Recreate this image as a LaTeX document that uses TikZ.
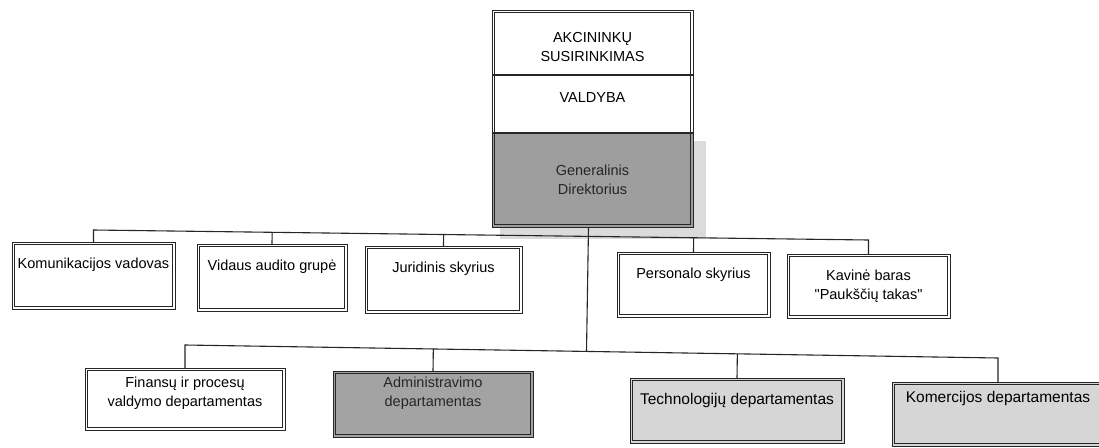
\documentclass[tikz,border=0pt]{standalone}
\usepackage{fontspec}
\setmainfont{Liberation Sans}
\usetikzlibrary{calc,fit}
\begin{document}
\begin{tikzpicture}[x=1pt,y=-1pt,
  box/.style={draw=black!85, line width=0.9pt, inner sep=0pt, outer sep=0pt,
    path picture={\draw[black!85, line width=0.6pt]
      ([shift={(2.4pt,-2.4pt)}]path picture bounding box.north west) rectangle
      ([shift={(-2.4pt,2.4pt)}]path picture bounding box.south east);}},
  darkbox/.style={box, fill=black!36},
  lightbox/.style={box, fill=black!16},
  plain/.style={inner sep=0pt, outer sep=0pt},
  shadow/.style={fill=black!14, draw=none},
  txt/.style={align=center, inner sep=0pt, font=\fontsize{14.5}{19}\selectfont},
  bigtxt/.style={align=center, inner sep=0pt, font=\fontsize{15.5}{17}\selectfont},
  sep/.style={draw=black!85, line width=1.1pt},
  conn/.style={draw=black!85, line width=1.1pt}]
\fill[white] (0,0) rectangle (1099,447);
\useasboundingbox (0,0) rectangle (1099,447);

% top stack
\node[plain, minimum width=201, minimum height=65] (akc) at (592.5,42.5) {};
\node[plain, minimum width=201, minimum height=58] (val) at (592.5,104) {};
\node[plain, fill=black!38, minimum width=201, minimum height=94] (gen) at (592.5,180) {};
\fill[shadow] ($(gen.north east)+(0,8)$) rectangle ($(gen.south east)+(13,12)$);
\fill[shadow] ($(gen.south west)+(8,0)$) rectangle ($(gen.south east)+(13,12)$);
\node[box, fit=(akc)(val)(gen)] (stack) {};
\draw[sep] (akc.south west) -- (akc.south east);
\draw[sep] (val.south west) -- (val.south east);
\node[txt, anchor=north] (akct) at ([yshift=-22]akc.north) {AKCININKŲ\\SUSIRINKIMAS};
\node[txt, anchor=north] (valt) at ([yshift=-17]val.north) {VALDYBA};
\node[txt, text=black!85] (gent) at (gen.center) {Generalinis\\Direktorius};

% level 1
\node[box, minimum width=163, minimum height=67] (kom) at (93.5,275.5) {};
\node[box, minimum width=150, minimum height=67] (vid) at (272,277.5) {};
\node[box, minimum width=157, minimum height=67] (jur) at (443.5,279.5) {};
\node[box, minimum width=153, minimum height=65] (per) at (693.5,284.5) {};
\node[box, minimum width=163, minimum height=64] (kav) at (868.5,286) {};
\node[txt, anchor=north] (komt) at ([yshift=-16]kom.north) {Komunikacijos vadovas};
\node[txt, anchor=north] (vidt) at ([yshift=-16]vid.north) {Vidaus audito grupė};
\node[txt, anchor=north] (jurt) at ([yshift=-16]jur.north) {Juridinis skyrius};
\node[txt, anchor=north] (pert) at ([yshift=-16]per.north) {Personalo skyrius};
\node[txt, anchor=north] (kavt) at ([yshift=-16]kav.north) {Kavinė baras\\\textquotedbl Paukščių takas\textquotedbl};

% level 2
\node[box, minimum width=200, minimum height=62] (fin) at (185,399) {};
\node[darkbox, minimum width=200, minimum height=66] (adm) at (433,404) {};
\node[lightbox, minimum width=214, minimum height=65] (tec) at (737,410.5) {};
\node[lightbox, minimum width=212, minimum height=64] (kmr) at (998,414) {};
\node[txt, anchor=north] (fint) at ([yshift=-9]fin.north) {Finansų ir procesų\\valdymo departamentas};
\node[txt, anchor=north, text=black!85] (admt) at ([yshift=-6]adm.north) {Administravimo\\departamentas};
\node[bigtxt, anchor=north] (tect) at ([yshift=-15]tec.north) {Technologijų departamentas};
\node[bigtxt, anchor=north] (kmrt) at ([yshift=-9]kmr.north) {Komercijos departamentas};

% connectors
\coordinate (b1l) at ($(kom.north)+(0,-12)$);
\coordinate (b1r) at ($(kav.north)+(0,-14)$);
\coordinate (b2l) at ($(fin.north)+(0,-23)$);
\coordinate (b2r) at ($(kmr.north)+(0,-24)$);
\coordinate (c0) at ($(gen.south)+(-4,0)$);
\draw[conn] (kom.north) -- (b1l) -- (b1r) -- (kav.north);
\draw[conn] (vid.north) -- ($(b1l)!(vid.north)!(b1r)$);
\draw[conn] (jur.north) -- ($(b1l)!(jur.north)!(b1r)$);
\draw[conn] (per.north) -- ($(b1l)!(per.north)!(b1r)$);
\draw[conn] (c0) -- ($(b2l)!(c0)!(b2r)$);
\draw[conn] (fin.north) -- (b2l) -- (b2r) -- (kmr.north);
\draw[conn] (adm.north) -- ($(b2l)!(adm.north)!(b2r)$);
\draw[conn] (tec.north) -- ($(b2l)!(tec.north)!(b2r)$);
\end{tikzpicture}
\end{document}
